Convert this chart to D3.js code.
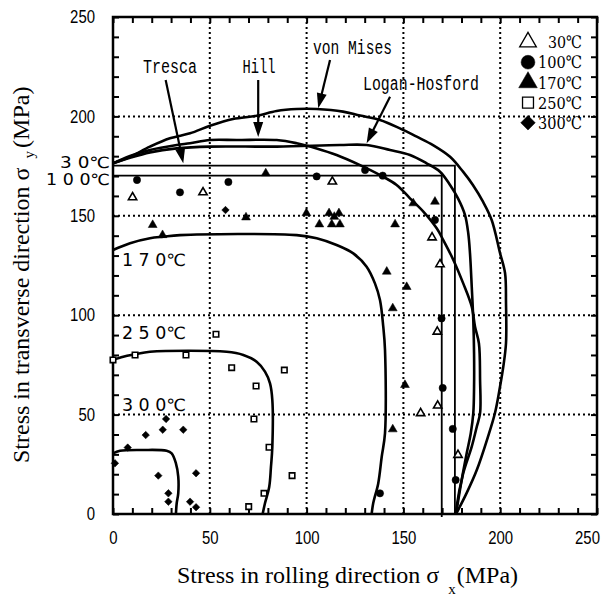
<html lang="en">
<head>
<meta charset="utf-8">
<title>Yield loci</title>
<style>
  body { margin: 0; background: white; }
  svg { display: block; }
  .grid line { stroke: black; stroke-width: 2; stroke-dasharray: 2,3; }
  .curve { fill: none; stroke: black; stroke-width: 2.6; }
  .tresca { fill: none; stroke: black; stroke-width: 1.8; }
  .tick text { font-family: "Liberation Sans", Arial, sans-serif; font-size: 18px; }
</style>
</head>
<body>
<script src="https://cdnjs.cloudflare.com/ajax/libs/d3/7.8.5/d3.min.js"></script>
<script>
// ---- data (MPa) ----
var vonMises = [[0,176.4],[8.8,179.7],[19.1,184.8],[29.4,189.0],[39.8,191.5],[50.1,195.3],[62.0,198.7],[74.2,200.3],[84.5,202.7],[94.9,203.7],[105.2,203.7],[118.8,202.4],[127.6,200.4],[137.9,198.2],[148.2,194.0],[156.9,189.8],[165.3,185.6],[174.1,179.7],[180.8,172.2],[185.9,165.5],[191.1,157.1],[195.6,147.9],[199.9,131.3],[202.5,121.2],[203.0,106.1],[203.0,86.0],[201.6,74.1],[199.9,64.0],[197.3,50.8],[193.7,38.9],[187.9,22.1],[182.7,10.6],[177.2,0]];
var hill = [[0,176.4],[8.8,180.1],[19.1,183.1],[32.9,185.6],[39.8,186.5],[50.1,188.1],[63.9,188.1],[84.6,188.1],[94.9,186.5],[105.2,183.9],[115.5,180.6],[127.6,175.5],[137.9,170.5],[146.5,165.5],[153.4,158.8],[160.3,152.1],[167.2,143.7],[170.6,137.8],[175.8,127.8],[180.9,116.0],[185.3,104.3],[187.0,94.2],[189.0,85.9],[189.6,67.4],[189.6,50.7],[187.9,43.9],[185.3,33.9],[180.9,20.5],[177.5,3.7],[177.2,0]];
var loganHosford = [[0,176.4],[8.8,179.2],[19.1,181.9],[32.9,183.9],[50.1,184.8],[84.6,184.8],[117.2,185.6],[131.0,185.6],[143.1,183.1],[153.4,180.6],[162.0,176.4],[168.9,172.2],[174.1,165.5],[178.2,158.8],[181.8,150.5],[183.5,141.2],[184.4,131.1],[185.3,114.3],[186.1,97.6],[186.5,80.8],[186.5,64.0],[186.1,50.7],[184.8,40.6],[182.7,30.5],[180.1,17.1],[177.8,3.7],[177.2,0]];
var tresca30 = [[0,175.2],[176.6,175.2],[176.6,0]];
var tresca100 = [[0,170.2],[169.8,170.2],[169.8,-1.5]];
var locus170 = [[0,132.8],[8.8,136.2],[19.1,138.7],[26.0,139.5],[34.6,140.3],[94.9,140.3],[105.2,138.7],[115.5,135.3],[124.1,131.1],[131.0,124.4],[135.3,116.0],[137.9,107.6],[139.6,94.2],[140.5,82.5],[140.5,40.7],[138.8,28.8],[137.0,15.4],[134.4,5.4],[133.6,0]];
var locus250 = [[0,77.5],[5.3,79.1],[11.4,80.3],[19.1,81.6],[58.7,81.6],[67.3,80.0],[74.2,76.6],[78.5,71.6],[81.1,65.7],[82.3,57.3],[82.3,33.9],[81.6,23.8],[80.7,13.7],[78.5,5.4],[77.3,0]];
var locus300 = [[0,30.5],[3.6,31.8],[15.6,32.2],[27.7,31.8],[30.3,30.5],[32.5,25.5],[33.7,18.8],[33.7,10.4],[32.9,5.4],[32.5,0]];

var pts30 = [[10.1,159.3],[46.5,161.8],[113.3,167.2],[164.8,139.1],[168.9,125.6],[167.5,91.7],[167.7,54.5],[158.9,50.7],[178.2,29.7]];
var pts100 = [[12.4,168.0],[34.6,161.8],[59.6,167.0],[105.2,169.8],[130.2,173.0],[139.3,170.2],[166.3,147.9],[169.7,98.4],[170.3,63.4],[175.5,42.8],[177.0,17.1],[137.9,10.4]];
var pts170 = [[20.5,145.4],[25.6,140.3],[68.7,149.2],[78.9,171.4],[99.9,151.3],[106.6,145.7],[111.6,151.3],[113.0,145.7],[114.3,149.5],[116.7,151.3],[117.2,145.7],[145.7,145.7],[155.1,156.3],[166.3,157.1],[141.4,121.9],[151.7,114.2],[144.5,103.5],[150.8,64.9],[144.5,42.6]];
var pts250 = [[0,77.5],[11.4,80.0],[37.7,80.0],[53.2,90.4],[61.3,73.6],[88.5,72.4],[73.9,64.4],[72.8,47.8],[80.6,33.6],[92.5,19.3],[78.0,10.4],[70.1,3.7]];
var pts300 = [[58.1,152.9],[27.4,47.8],[25.7,42.4],[36.3,42.4],[16.9,39.7],[7.6,33.4],[1.0,25.5],[23.4,19.3],[42.9,20.5],[28.6,10.4],[28.6,6.2],[39.8,6.2],[42.9,3.4]];

var legendLabels = ["30\u2103", "100\u2103", "170\u2103", "250\u2103", "300\u2103"];
var gridValues = [50, 100, 150, 200];
var tickValues = d3.range(0, 251, 10);

// criterion labels: text, label anchor, arrow start, arrow tip
var criteria = ["Tresca", "Hill", "von Mises", "Logan-Hosford"];
var criteriaAt = [[29.4,225.3],[75.4,225.3],[123.7,234.8],[159.1,216.7]];
var arrowFrom = [[27.2,218.3],[75.0,218.3],[112.1,228.4],[143.1,209.9]];
var arrowTo = [[36.3,176.4],[75.0,189.6],[106.0,204.1],[131.0,186.5]];

var tempLabels = ["3 0\u2103", "1 0 0\u2103", "1 7 0\u2103", "2 5 0\u2103", "3 0 0\u2103"];
var tempAt = [[-1.5,177.1],[-1.5,168.5],[4.6,127.8],[4.6,91.0],[4.6,54.8]];

// ---- layout ----
var fullWidth = 606, fullHeight = 597;
var margin = {top: 17, right: 9, bottom: 83, left: 113};
var width = fullWidth - margin.left - margin.right;
var height = fullHeight - margin.top - margin.bottom;

var svg = d3.select("body").append("svg")
    .attr("width", fullWidth)
    .attr("height", fullHeight);
var g = svg.append("g")
    .attr("transform", "translate(" + margin.left + "," + margin.top + ")");

var xScale = d3.scaleLinear().domain([0, 250]).range([0, width]);
var yScale = d3.scaleLinear().domain([0, 250]).range([height, 0]);

// grid
var grid = g.append("g").attr("class", "grid");
grid.selectAll(".gx").data(gridValues).enter().append("line")
    .attr("x1", d => xScale(d)).attr("x2", d => xScale(d))
    .attr("y1", 0).attr("y2", height);
grid.selectAll(".gy").data(gridValues).enter().append("line")
    .attr("y1", d => yScale(d)).attr("y2", d => yScale(d))
    .attr("x1", 0).attr("x2", width);

// axes, ticks pointing inward
function fmt(d) { return d % 50 === 0 ? d : ""; }
var xAxis = d3.axisBottom(xScale).tickValues(tickValues).tickFormat(fmt)
    .tickSizeInner(-6).tickSizeOuter(0).tickPadding(17);
var yAxis = d3.axisLeft(yScale).tickValues(tickValues).tickFormat(fmt)
    .tickSizeInner(-6).tickSizeOuter(0).tickPadding(18);
var xTop = d3.axisTop(xScale).tickValues(tickValues).tickFormat("")
    .tickSizeInner(-6).tickSizeOuter(0);
var yRight = d3.axisRight(yScale).tickValues(tickValues).tickFormat("")
    .tickSizeInner(-6).tickSizeOuter(0);

var gx = g.append("g").attr("transform", "translate(0," + height + ")").call(xAxis);
g.append("g").call(yAxis);
g.append("g").call(xTop);
g.append("g").attr("transform", "translate(" + width + ",0)").call(yRight);
g.selectAll(".domain").remove();
g.selectAll(".tick line").attr("stroke", "black").attr("stroke-width", 2);
// condensed look of the scanned tick numbers
g.selectAll(".tick text").attr("fill", "black")
    .each(function() {
      var n = this.textContent.length;
      if (n) d3.select(this).attr("textLength", n * 8.3).attr("lengthAdjust", "spacingAndGlyphs");
    });
gx.selectAll(".tick text").filter(d => d === 250).attr("dx", -10);

// curves
var line = d3.line().x(d => xScale(d[0])).y(d => yScale(d[1])).curve(d3.curveCatmullRom);
var straight = d3.line().x(d => xScale(d[0])).y(d => yScale(d[1]));
[vonMises, hill, loganHosford, locus170, locus250, locus300].forEach(function(c) {
  g.append("path").attr("class", "curve").attr("d", line(c));
});
[tresca30, tresca100].forEach(function(c) {
  g.append("path").attr("class", "tresca").attr("d", straight(c));
});

// border
g.append("rect").attr("width", width).attr("height", height)
    .attr("fill", "none").attr("stroke", "black").attr("stroke-width", 2.5);

// markers
var series = [
  {data: pts30, type: d3.symbolTriangle, size: 30, open: true, rot: 0},
  {data: pts100, type: d3.symbolCircle, size: 42, open: false, rot: 0},
  {data: pts170, type: d3.symbolTriangle, size: 34, open: false, rot: 0},
  {data: pts250, type: d3.symbolSquare, size: 30, open: true, rot: 0},
  {data: pts300, type: d3.symbolSquare, size: 28, open: false, rot: 45}
];
series.forEach(function(s) {
  g.append("g").selectAll("path").data(s.data).enter().append("path")
    .attr("transform", d => "translate(" + xScale(d[0]) + "," + yScale(d[1]) + ") rotate(" + s.rot + ")")
    .attr("d", d3.symbol().type(s.type).size(s.size))
    .attr("fill", s.open ? "white" : "black")
    .attr("stroke", "black")
    .attr("stroke-width", s.open ? 1.6 : 0.5);
});

// legend
var legend = svg.append("g");
legendLabels.forEach(function(t, i) {
  var s = series[i];
  var y = 42 + i * 20.2;
  legend.append("path")
    .attr("transform", "translate(528," + y + ") rotate(" + s.rot + ")")
    .attr("d", d3.symbol().type(s.type).size(s.open ? 120 : (s.rot ? 105 : 150)))
    .attr("fill", s.open ? "white" : "black")
    .attr("stroke", "black").attr("stroke-width", s.open ? 1.3 : 0.5);
  legend.append("text")
    .attr("x", 582).attr("y", y).attr("dy", "0.36em")
    .attr("text-anchor", "end")
    .attr("font-family", "'DejaVu Serif', 'Liberation Serif', serif")
    .attr("font-size", 17)
    .attr("textLength", i === 0 ? 34 : 44).attr("lengthAdjust", "spacingAndGlyphs")
    .text(t);
});

// criterion labels and arrows
var labelWidths = [54, 33, 79, 116];
criteria.forEach(function(t, i) {
  g.append("text")
    .attr("x", xScale(criteriaAt[i][0])).attr("y", yScale(criteriaAt[i][1])).attr("dy", "0.36em")
    .attr("text-anchor", "middle")
    .attr("font-family", "'Liberation Mono', 'DejaVu Sans Mono', monospace")
    .attr("font-size", 20)
    .attr("textLength", labelWidths[i]).attr("lengthAdjust", "spacingAndGlyphs")
    .text(t);
  var x0 = xScale(arrowFrom[i][0]), y0 = yScale(arrowFrom[i][1]);
  var x1 = xScale(arrowTo[i][0]), y1 = yScale(arrowTo[i][1]);
  var ang = Math.atan2(y1 - y0, x1 - x0) * 180 / Math.PI;
  var len = Math.hypot(x1 - x0, y1 - y0);
  var a = g.append("g").attr("transform", "translate(" + x0 + "," + y0 + ") rotate(" + ang + ")");
  a.append("line").attr("x1", 0).attr("y1", 0).attr("x2", len - 10).attr("y2", 0)
    .attr("stroke", "black").attr("stroke-width", 2.2);
  a.append("path").attr("d", "M" + len + ",0 L" + (len - 15) + ",-5 L" + (len - 15) + ",5 Z")
    .attr("fill", "black");
});

// temperature labels
tempLabels.forEach(function(t, i) {
  var outside = i < 2;
  g.append("text")
    .attr("x", xScale(tempAt[i][0])).attr("y", yScale(tempAt[i][1])).attr("dy", "0.36em")
    .attr("text-anchor", outside ? "end" : "start")
    .attr("font-family", "'DejaVu Sans', sans-serif")
    .attr("font-size", outside ? 15.5 : 17)
    .attr("textLength", i === 0 ? 50 : 64).attr("lengthAdjust", "spacingAndGlyphs")
    .text(t);
});

// axis titles
var xt = svg.append("text")
    .attr("x", 177).attr("y", 583)
    .attr("font-family", "'Liberation Serif', 'Times New Roman', serif")
    .attr("font-size", 24);
xt.append("tspan").text("Stress in rolling direction \u03c3");
xt.append("tspan").attr("dx", 9).attr("dy", 11).attr("font-size", 15).text("x");
xt.append("tspan").attr("dx", 1).attr("dy", -11).text("(MPa)");

var yt = svg.append("text")
    .attr("transform", "translate(29,463) rotate(-90)")
    .attr("font-family", "'Liberation Serif', 'Times New Roman', serif")
    .attr("font-size", 24);
yt.append("tspan").text("Stress in transverse direction \u03c3");
yt.append("tspan").attr("dx", 9).attr("dy", 5).attr("font-size", 15).text("y");
yt.append("tspan").attr("dx", 3).attr("dy", -5).text("(MPa)");
</script>
</body>
</html>
